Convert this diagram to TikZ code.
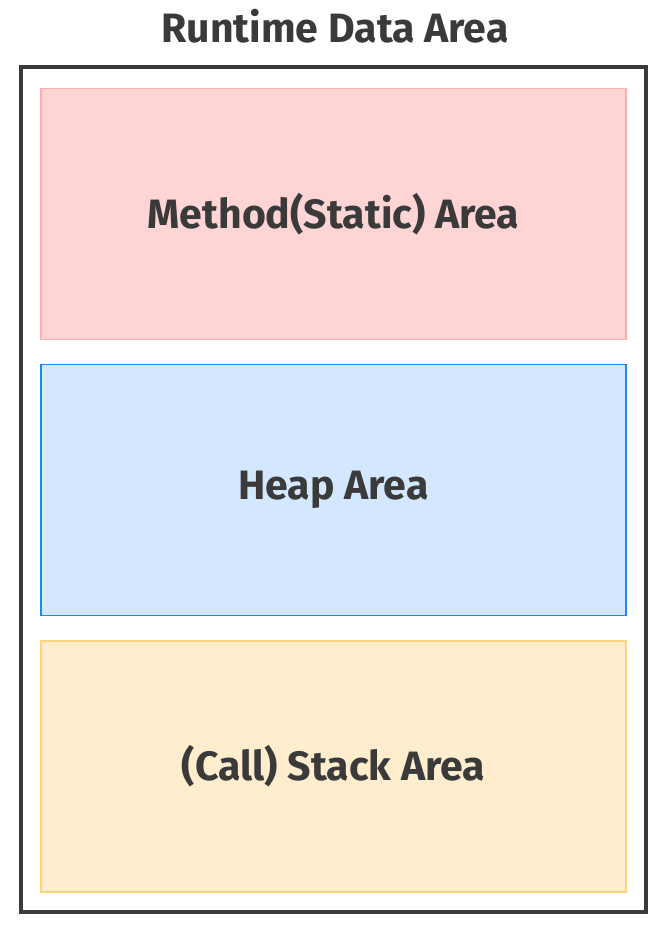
\documentclass[tikz,border=0pt]{standalone}
\usepackage{fontspec}
\setmainfont{Fira Sans}
\definecolor{ink}{HTML}{3A3A3A}
\definecolor{methodfill}{HTML}{FFD4D4}
\definecolor{methodline}{HTML}{FFAEAE}
\definecolor{heapfill}{HTML}{D3E7FF}
\definecolor{heapline}{HTML}{1E88F0}
\definecolor{stackfill}{HTML}{FFEDCD}
\definecolor{stackline}{HTML}{FFD27E}
\begin{document}
\begin{tikzpicture}[x=1pt,y=-1pt,
    label text/.style={text=ink, font=\fontsize{41}{48}\selectfont\bfseries},
    area/.style={draw, line width=1.5pt, minimum width=585pt, minimum height=251pt,
      inner sep=0pt, label text}]
    \useasboundingbox (0,0) rectangle (670,934);
    \node[label text] (title) at (335,26) {Runtime Data Area};
    \draw[ink, line width=3.5pt] (21,67) rectangle (646,912);
    \node[area, fill=methodfill, draw=methodline] (method) at (333.5,214) {Method(Static) Area};
    \node[area, fill=heapfill, draw=heapline] (heap) at (333.5,490) {Heap Area};
    \node[area, fill=stackfill, draw=stackline] (stack) at (333.5,766.5) {(Call) Stack Area};
\end{tikzpicture}
\end{document}
